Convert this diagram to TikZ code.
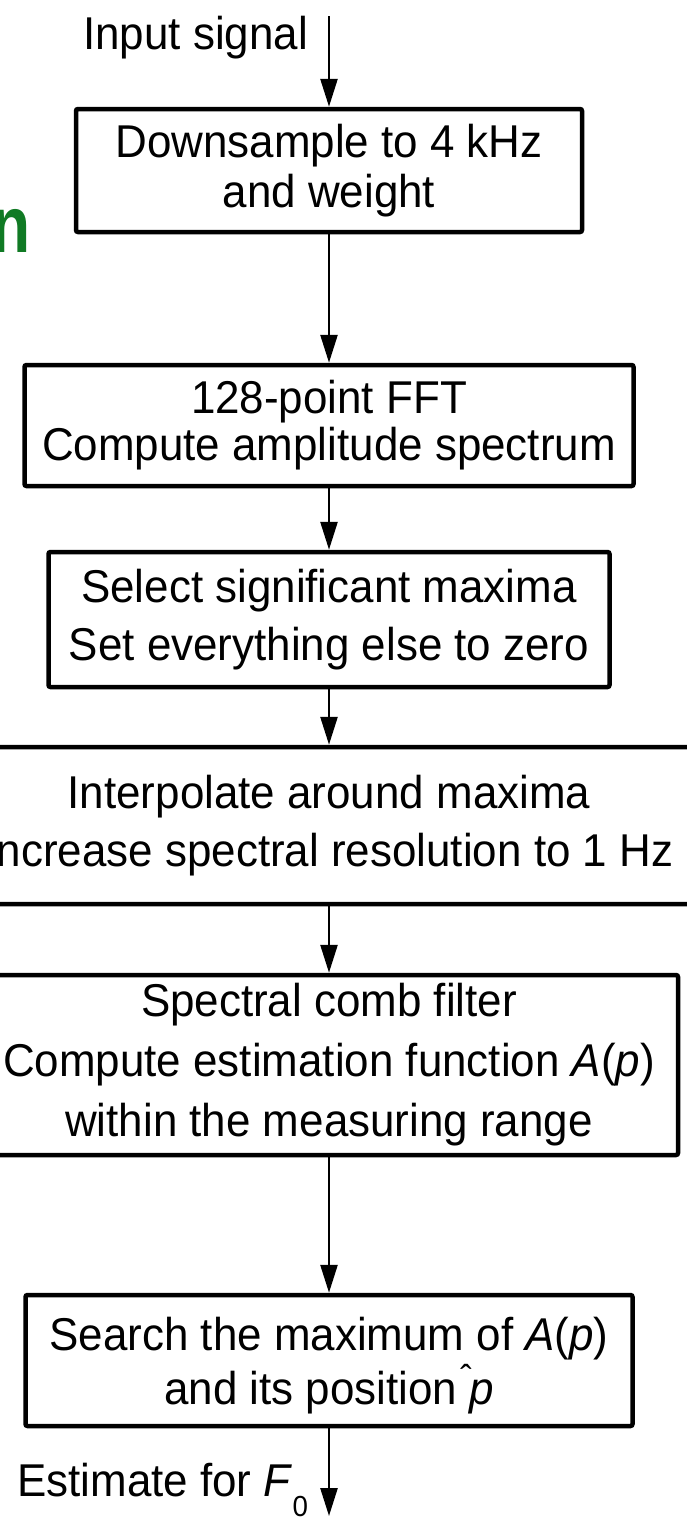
\documentclass[tikz,border=0pt]{standalone}
\usepackage{fontspec}
\setmainfont{Liberation Sans}[FakeStretch=0.955]
\newfontfamily\titlefont[FakeStretch=0.8]{Liberation Sans}
\usetikzlibrary{arrows.meta}
\definecolor{titlegreen}{RGB}{16,122,36}

\begin{document}
\begin{tikzpicture}[x=1pt, y=-1pt,
  stage/.style={draw, line width=4.5pt, rounded corners=2pt, align=center,
                inner sep=0pt, font=\fontsize{46}{#1}\selectfont},
  stage/.default=50,
  label/.style={anchor=base west, inner sep=0pt, font=\fontsize{46}{50}\selectfont},
  flow/.style={line width=2.6pt, -{Triangle[length=28pt,width=17pt]}}]

\useasboundingbox (0,0) rectangle (687,1518);
\clip (0,0) rectangle (687,1518);

% fragment of the heading on the left
\node[anchor=base east, inner sep=0pt, text=titlegreen,
      font=\titlefont\bfseries\fontsize{80}{80}\selectfont] (heading) at (31,252) {n};

% processing stages
\node[stage=50, minimum width=506pt, minimum height=123pt] (down)   at (329,170.5)
  {Downsample to 4 kHz\\and weight};
\node[stage=47, minimum width=609pt, minimum height=121pt] (fft)    at (329,425.5)
  {128-point FFT\\Compute amplitude spectrum};
\node[stage=58, minimum width=561pt, minimum height=135pt] (select) at (329,619.5)
  {Select significant maxima\\Set everything else to zero};
\node[stage=58, minimum width=820pt, minimum height=157pt] (interp) at (329,825.5)
  {Interpolate around maxima\\Increase spectral resolution to 1 Hz};
\node[stage=60, minimum width=698pt, minimum height=180pt] (comb)   at (329,1065)
  {Spectral comb filter\\Compute estimation function \textit{A}(\textit{p})\\within the measuring range};
\node[stage=54, minimum width=607pt, minimum height=131pt] (search) at (329,1360.5)
  {\rule{0pt}{44pt}Search the maximum of \textit{A}(\textit{p})\\and its position \textit{p}};
\node[anchor=base, inner sep=0pt, font=\fontsize{36}{36}\selectfont] (hat) at (466,1390) {ˆ};

% input and output
\node[label] (inlabel)  at (83,49)   {Input signal};
\node[label] (outlabel) at (17,1496)
  {Estimate for \textit{F}\raisebox{-20pt}{\fontsize{29}{29}\selectfont 0}};
\coordinate (src) at (329,16);
\coordinate (dst) at (329,1516);

% signal flow
\draw[flow] (src)           -- (down.north);
\draw[flow] (down.south)    -- (fft.north);
\draw[flow] (fft.south)     -- (select.north);
\draw[flow] (select.south)  -- (interp.north);
\draw[flow] (interp.south)  -- (comb.north);
\draw[flow] (comb.south)    -- (search.north);
\draw[flow] (search.south)  -- (dst);
\end{tikzpicture}
\end{document}
